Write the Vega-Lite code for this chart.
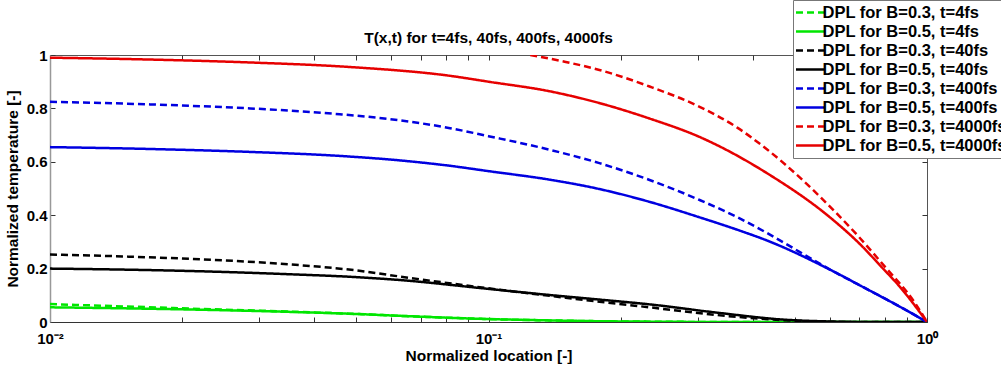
{
  "$schema": "https://vega.github.io/schema/vega-lite/v6.json",
  "width": 877,
  "height": 267,
  "autosize": {"type": "none"},
  "padding": {"left": 50, "top": 55, "right": 74, "bottom": 48},
  "background": "white",
  "title": {"text": "T(x,t) for t=4fs, 40fs, 400fs, 4000fs", "font": "Liberation Sans", "fontSize": 15.5, "fontWeight": "bold", "color": "#000", "offset": -47},
  "config": {
    "view": {"stroke": "#555", "strokeWidth": 1},
    "axis": {"labelFont": "Liberation Sans", "labelFontSize": 15, "labelFontWeight": "bold", "labelColor": "#000", "titleFont": "Liberation Sans", "titleFontSize": 15.5, "titleFontWeight": "bold", "titleColor": "#000", "grid": false, "tickColor": "#333", "domainColor": "#555", "tickSize": -5, "labelFlush": false, "labelBound": false, "labelOverlap": false}
  },
  "data": {"values": [
    {"s": "DPL for B=0.3, t=4fs", "x": 0.01, "T": 0.067},
    {"s": "DPL for B=0.3, t=4fs", "x": 0.015, "T": 0.058},
    {"s": "DPL for B=0.3, t=4fs", "x": 0.022, "T": 0.049},
    {"s": "DPL for B=0.3, t=4fs", "x": 0.035, "T": 0.039},
    {"s": "DPL for B=0.3, t=4fs", "x": 0.05, "T": 0.03},
    {"s": "DPL for B=0.3, t=4fs", "x": 0.063, "T": 0.023},
    {"s": "DPL for B=0.3, t=4fs", "x": 0.1, "T": 0.011},
    {"s": "DPL for B=0.3, t=4fs", "x": 0.138, "T": 0.006},
    {"s": "DPL for B=0.3, t=4fs", "x": 0.179, "T": 0.003},
    {"s": "DPL for B=0.3, t=4fs", "x": 0.25, "T": 0.001},
    {"s": "DPL for B=0.3, t=4fs", "x": 0.35, "T": 0},
    {"s": "DPL for B=0.3, t=4fs", "x": 1, "T": 0},
    {"s": "DPL for B=0.5, t=4fs", "x": 0.01, "T": 0.055},
    {"s": "DPL for B=0.5, t=4fs", "x": 0.015, "T": 0.051},
    {"s": "DPL for B=0.5, t=4fs", "x": 0.022, "T": 0.046},
    {"s": "DPL for B=0.5, t=4fs", "x": 0.035, "T": 0.038},
    {"s": "DPL for B=0.5, t=4fs", "x": 0.05, "T": 0.03},
    {"s": "DPL for B=0.5, t=4fs", "x": 0.063, "T": 0.023},
    {"s": "DPL for B=0.5, t=4fs", "x": 0.1, "T": 0.011},
    {"s": "DPL for B=0.5, t=4fs", "x": 0.138, "T": 0.006},
    {"s": "DPL for B=0.5, t=4fs", "x": 0.179, "T": 0.003},
    {"s": "DPL for B=0.5, t=4fs", "x": 0.25, "T": 0.001},
    {"s": "DPL for B=0.5, t=4fs", "x": 0.35, "T": 0},
    {"s": "DPL for B=0.5, t=4fs", "x": 1, "T": 0},
    {"s": "DPL for B=0.3, t=40fs", "x": 0.01, "T": 0.253},
    {"s": "DPL for B=0.3, t=40fs", "x": 0.015, "T": 0.245},
    {"s": "DPL for B=0.3, t=40fs", "x": 0.022, "T": 0.235},
    {"s": "DPL for B=0.3, t=40fs", "x": 0.035, "T": 0.216},
    {"s": "DPL for B=0.3, t=40fs", "x": 0.05, "T": 0.193},
    {"s": "DPL for B=0.3, t=40fs", "x": 0.063, "T": 0.17},
    {"s": "DPL for B=0.3, t=40fs", "x": 0.1, "T": 0.126},
    {"s": "DPL for B=0.3, t=40fs", "x": 0.138, "T": 0.098},
    {"s": "DPL for B=0.3, t=40fs", "x": 0.179, "T": 0.076},
    {"s": "DPL for B=0.3, t=40fs", "x": 0.233, "T": 0.055},
    {"s": "DPL for B=0.3, t=40fs", "x": 0.332, "T": 0.026},
    {"s": "DPL for B=0.3, t=40fs", "x": 0.47, "T": 0.007},
    {"s": "DPL for B=0.3, t=40fs", "x": 0.6, "T": 0.001},
    {"s": "DPL for B=0.3, t=40fs", "x": 0.75, "T": 0},
    {"s": "DPL for B=0.3, t=40fs", "x": 1, "T": 0},
    {"s": "DPL for B=0.5, t=40fs", "x": 0.01, "T": 0.2},
    {"s": "DPL for B=0.5, t=40fs", "x": 0.015, "T": 0.196},
    {"s": "DPL for B=0.5, t=40fs", "x": 0.022, "T": 0.19},
    {"s": "DPL for B=0.5, t=40fs", "x": 0.035, "T": 0.179},
    {"s": "DPL for B=0.5, t=40fs", "x": 0.05, "T": 0.168},
    {"s": "DPL for B=0.5, t=40fs", "x": 0.063, "T": 0.157},
    {"s": "DPL for B=0.5, t=40fs", "x": 0.1, "T": 0.124},
    {"s": "DPL for B=0.5, t=40fs", "x": 0.138, "T": 0.101},
    {"s": "DPL for B=0.5, t=40fs", "x": 0.179, "T": 0.084},
    {"s": "DPL for B=0.5, t=40fs", "x": 0.233, "T": 0.066},
    {"s": "DPL for B=0.5, t=40fs", "x": 0.332, "T": 0.035},
    {"s": "DPL for B=0.5, t=40fs", "x": 0.47, "T": 0.009},
    {"s": "DPL for B=0.5, t=40fs", "x": 0.6, "T": 0.002},
    {"s": "DPL for B=0.5, t=40fs", "x": 0.75, "T": 0},
    {"s": "DPL for B=0.5, t=40fs", "x": 1, "T": 0},
    {"s": "DPL for B=0.3, t=400fs", "x": 0.01, "T": 0.825},
    {"s": "DPL for B=0.3, t=400fs", "x": 0.0169, "T": 0.815},
    {"s": "DPL for B=0.3, t=400fs", "x": 0.0286, "T": 0.8},
    {"s": "DPL for B=0.3, t=400fs", "x": 0.0458, "T": 0.778},
    {"s": "DPL for B=0.3, t=400fs", "x": 0.063, "T": 0.755},
    {"s": "DPL for B=0.3, t=400fs", "x": 0.0817, "T": 0.726},
    {"s": "DPL for B=0.3, t=400fs", "x": 0.1, "T": 0.696},
    {"s": "DPL for B=0.3, t=400fs", "x": 0.138, "T": 0.645},
    {"s": "DPL for B=0.3, t=400fs", "x": 0.179, "T": 0.595},
    {"s": "DPL for B=0.3, t=400fs", "x": 0.233, "T": 0.532},
    {"s": "DPL for B=0.3, t=400fs", "x": 0.303, "T": 0.457},
    {"s": "DPL for B=0.3, t=400fs", "x": 0.37, "T": 0.392},
    {"s": "DPL for B=0.3, t=400fs", "x": 0.432, "T": 0.333},
    {"s": "DPL for B=0.3, t=400fs", "x": 0.513, "T": 0.262},
    {"s": "DPL for B=0.3, t=400fs", "x": 0.611, "T": 0.19},
    {"s": "DPL for B=0.3, t=400fs", "x": 0.73, "T": 0.123},
    {"s": "DPL for B=0.3, t=400fs", "x": 0.868, "T": 0.057},
    {"s": "DPL for B=0.3, t=400fs", "x": 1, "T": 0},
    {"s": "DPL for B=0.5, t=400fs", "x": 0.01, "T": 0.655},
    {"s": "DPL for B=0.5, t=400fs", "x": 0.0169, "T": 0.648},
    {"s": "DPL for B=0.5, t=400fs", "x": 0.0286, "T": 0.637},
    {"s": "DPL for B=0.5, t=400fs", "x": 0.0458, "T": 0.622},
    {"s": "DPL for B=0.5, t=400fs", "x": 0.063, "T": 0.605},
    {"s": "DPL for B=0.5, t=400fs", "x": 0.0817, "T": 0.585},
    {"s": "DPL for B=0.5, t=400fs", "x": 0.1, "T": 0.565},
    {"s": "DPL for B=0.5, t=400fs", "x": 0.138, "T": 0.533},
    {"s": "DPL for B=0.5, t=400fs", "x": 0.179, "T": 0.498},
    {"s": "DPL for B=0.5, t=400fs", "x": 0.233, "T": 0.45},
    {"s": "DPL for B=0.5, t=400fs", "x": 0.303, "T": 0.392},
    {"s": "DPL for B=0.5, t=400fs", "x": 0.37, "T": 0.345},
    {"s": "DPL for B=0.5, t=400fs", "x": 0.432, "T": 0.305},
    {"s": "DPL for B=0.5, t=400fs", "x": 0.611, "T": 0.19},
    {"s": "DPL for B=0.5, t=400fs", "x": 0.73, "T": 0.123},
    {"s": "DPL for B=0.5, t=400fs", "x": 0.868, "T": 0.057},
    {"s": "DPL for B=0.5, t=400fs", "x": 1, "T": 0},
    {"s": "DPL for B=0.3, t=4000fs", "x": 0.1245, "T": 1.0},
    {"s": "DPL for B=0.3, t=4000fs", "x": 0.15, "T": 0.974},
    {"s": "DPL for B=0.3, t=4000fs", "x": 0.179, "T": 0.944},
    {"s": "DPL for B=0.3, t=4000fs", "x": 0.233, "T": 0.882},
    {"s": "DPL for B=0.3, t=4000fs", "x": 0.303, "T": 0.806},
    {"s": "DPL for B=0.3, t=4000fs", "x": 0.37, "T": 0.727},
    {"s": "DPL for B=0.3, t=4000fs", "x": 0.432, "T": 0.646},
    {"s": "DPL for B=0.3, t=4000fs", "x": 0.611, "T": 0.42},
    {"s": "DPL for B=0.3, t=4000fs", "x": 0.7, "T": 0.318},
    {"s": "DPL for B=0.3, t=4000fs", "x": 0.794, "T": 0.215},
    {"s": "DPL for B=0.3, t=4000fs", "x": 0.94, "T": 0.07},
    {"s": "DPL for B=0.3, t=4000fs", "x": 1, "T": 0},
    {"s": "DPL for B=0.5, t=4000fs", "x": 0.01, "T": 0.99},
    {"s": "DPL for B=0.5, t=4000fs", "x": 0.0169, "T": 0.983},
    {"s": "DPL for B=0.5, t=4000fs", "x": 0.0286, "T": 0.972},
    {"s": "DPL for B=0.5, t=4000fs", "x": 0.0483, "T": 0.955},
    {"s": "DPL for B=0.5, t=4000fs", "x": 0.0817, "T": 0.922},
    {"s": "DPL for B=0.5, t=4000fs", "x": 0.1, "T": 0.9},
    {"s": "DPL for B=0.5, t=4000fs", "x": 0.138, "T": 0.864},
    {"s": "DPL for B=0.5, t=4000fs", "x": 0.179, "T": 0.82},
    {"s": "DPL for B=0.5, t=4000fs", "x": 0.233, "T": 0.762},
    {"s": "DPL for B=0.5, t=4000fs", "x": 0.303, "T": 0.693},
    {"s": "DPL for B=0.5, t=4000fs", "x": 0.432, "T": 0.557},
    {"s": "DPL for B=0.5, t=4000fs", "x": 0.611, "T": 0.382},
    {"s": "DPL for B=0.5, t=4000fs", "x": 0.7, "T": 0.295},
    {"s": "DPL for B=0.5, t=4000fs", "x": 0.794, "T": 0.2},
    {"s": "DPL for B=0.5, t=4000fs", "x": 0.867, "T": 0.132},
    {"s": "DPL for B=0.5, t=4000fs", "x": 1, "T": 0}
  ]},
  "layer": [
    {
      "mark": {"type": "line", "strokeWidth": 2.5, "clip": true, "interpolate": "monotone"},
      "encoding": {
        "x": {"field": "x", "type": "quantitative", "scale": {"type": "log", "domain": [0.01, 1], "nice": false},
          "axis": {"orient": "bottom", "title": "Normalized location [-]", "titlePadding": 2, "labelPadding": 14, "domainColor": "#333",
            "values": [0.01, 0.02, 0.03, 0.04, 0.05, 0.06, 0.07, 0.08, 0.09, 0.1, 0.2, 0.3, 0.4, 0.5, 0.6, 0.7, 0.8, 0.9, 1],
            "labelExpr": "datum.value < 0.0105 ? '10⁻²' : (abs(datum.value - 0.1) < 1e-9 ? '10⁻¹' : (datum.value > 0.999 ? '10⁰' : ''))"}},
        "y": {"field": "T", "type": "quantitative", "scale": {"domain": [0, 1], "nice": false},
          "axis": {"orient": "left", "title": "Normalized temperature [-]", "values": [0, 0.2, 0.4, 0.6, 0.8, 1], "format": ".1~f", "labelPadding": 8, "titlePadding": 6, "domainColor": "#999", "domainWidth": 1.5}},
        "color": {"field": "s", "type": "nominal",
          "scale": {"domain": ["DPL for B=0.3, t=4fs", "DPL for B=0.5, t=4fs", "DPL for B=0.3, t=40fs", "DPL for B=0.5, t=40fs", "DPL for B=0.3, t=400fs", "DPL for B=0.5, t=400fs", "DPL for B=0.3, t=4000fs", "DPL for B=0.5, t=4000fs"],
            "range": ["#00e600", "#00e600", "#000000", "#000000", "#0000e0", "#0000e0", "#e60000", "#e60000"]},
          "legend": {"orient": "none", "legendX": 743, "legendY": -55, "title": null, "padding": 4, "fillColor": "white", "strokeColor": "#777", "symbolType": "M-1,0H3", "symbolSize": 196, "symbolStrokeWidth": 2.5, "symbolOffset": -2.5, "labelOffset": 11, "labelFont": "Liberation Sans", "labelFontSize": 16.5, "labelFontWeight": "bold", "labelColor": "#000", "labelLimit": 400, "rowPadding": 2}},
        "strokeDash": {"field": "s", "type": "nominal",
          "scale": {"domain": ["DPL for B=0.3, t=4fs", "DPL for B=0.5, t=4fs", "DPL for B=0.3, t=40fs", "DPL for B=0.5, t=40fs", "DPL for B=0.3, t=400fs", "DPL for B=0.5, t=400fs", "DPL for B=0.3, t=4000fs", "DPL for B=0.5, t=4000fs"],
            "range": [[7, 4], [1, 0], [7, 4], [1, 0], [7, 4], [1, 0], [7, 4], [1, 0]]},
          "legend": {"orient": "none", "legendX": 743, "legendY": -55, "title": null, "padding": 4, "fillColor": "white", "strokeColor": "#777", "symbolType": "M-1,0H3", "symbolSize": 196, "symbolStrokeWidth": 2.5, "symbolOffset": -2.5, "labelOffset": 11, "labelFont": "Liberation Sans", "labelFontSize": 16.5, "labelFontWeight": "bold", "labelColor": "#000", "labelLimit": 400, "rowPadding": 2}}
      }
    },
    {
      "mark": {"type": "point", "opacity": 0},
      "encoding": {
        "x": {"field": "x", "type": "quantitative", "axis": {"orient": "top", "labels": false, "title": null, "domain": false,
          "values": [0.01, 0.02, 0.03, 0.04, 0.05, 0.06, 0.07, 0.08, 0.09, 0.1, 0.2, 0.3, 0.4, 0.5, 0.6, 0.7, 0.8, 0.9, 1]}},
        "y": {"field": "T", "type": "quantitative", "axis": {"orient": "right", "labels": false, "title": null, "domain": false, "values": [0, 0.2, 0.4, 0.6, 0.8, 1]}}
      }
    }
  ],
  "resolve": {"axis": {"x": "independent", "y": "independent"}}
}
